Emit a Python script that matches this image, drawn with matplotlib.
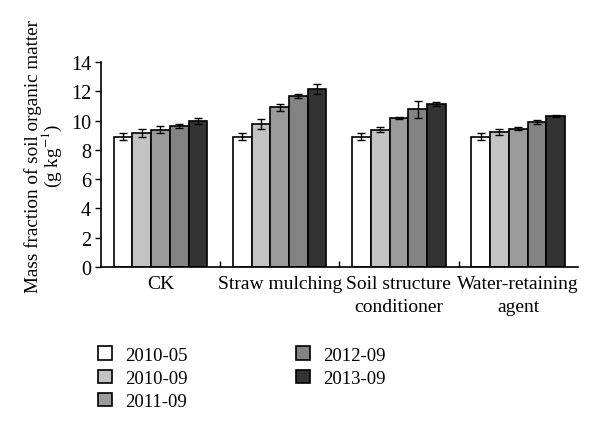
import matplotlib
matplotlib.use("Agg")
import matplotlib.pyplot as plt
import numpy as np

plt.rcParams['font.family'] = ['Liberation Serif', 'DejaVu Serif']
plt.rcParams['mathtext.fontset'] = 'stix'

categories = ["CK", "Straw mulching", "Soil structure\nconditioner", "Water-retaining\nagent"]
series = ["2010-05", "2010-09", "2011-09", "2012-09", "2013-09"]
values = {
    "2010-05": [8.9, 8.9, 8.9, 8.9],
    "2010-09": [9.17, 9.77, 9.38, 9.22],
    "2011-09": [9.38, 10.9, 10.16, 9.45],
    "2012-09": [9.63, 11.68, 10.76, 9.91],
    "2013-09": [9.95, 12.16, 11.15, 10.32],
}
errors = {
    "2010-05": [0.25, 0.25, 0.25, 0.25],
    "2010-09": [0.28, 0.33, 0.15, 0.2],
    "2011-09": [0.25, 0.25, 0.06, 0.08],
    "2012-09": [0.15, 0.15, 0.55, 0.15],
    "2013-09": [0.2, 0.35, 0.12, 0.08],
}
colors = ["#ffffff", "#c3c3c3", "#9b9b9b", "#838383", "#333333"]

fig = plt.figure(figsize=(6, 4.35), dpi=100)
ax = fig.add_axes([0.168, 0.384, 0.795, 0.471])

x = np.arange(len(categories))
w = 0.157
for i, s in enumerate(series):
    ax.bar(x + (i - 2) * w, values[s], w, color=colors[i], edgecolor='black',
           linewidth=1.2, label=s, yerr=errors[s], capsize=3,
           error_kw=dict(elinewidth=1, capthick=1, ecolor='black'))

ax.set_xlim(-0.5, len(categories) - 0.5)
ax.set_ylim(0, 14)
ax.set_yticks(range(0, 15, 2))
ax.set_xticks(x)
ax.set_xticklabels(categories, fontsize=14, linespacing=1.45)
ax.set_xticks(np.arange(0.5, len(categories) - 0.5), minor=True)
ax.tick_params(axis='x', which='major', length=0, pad=6)
ax.tick_params(axis='x', which='minor', length=4, direction='in', width=1)
ax.tick_params(axis='y', labelsize=14.5, direction='out', length=4, width=1, pad=3)
for sp in ['top', 'right']:
    ax.spines[sp].set_visible(False)
for sp in ['left', 'bottom']:
    ax.spines[sp].set_linewidth(1.2)
ax.set_ylabel("Mass fraction of soil organic matter\n(g kg$^{-1}$)", fontsize=13.8,
              linespacing=0.85)
ax.yaxis.set_label_coords(-0.078, 0.546)

handles, labels = ax.get_legend_handles_labels()
fig.legend(handles, labels, ncol=2, loc='upper left', bbox_to_anchor=(0.135, 0.24),
           frameon=False, fontsize=13.5, handlelength=0.75, handleheight=0.75,
           labelspacing=0.3, columnspacing=5.8, handletextpad=0.7)

fig.savefig("out.png", dpi=100)
